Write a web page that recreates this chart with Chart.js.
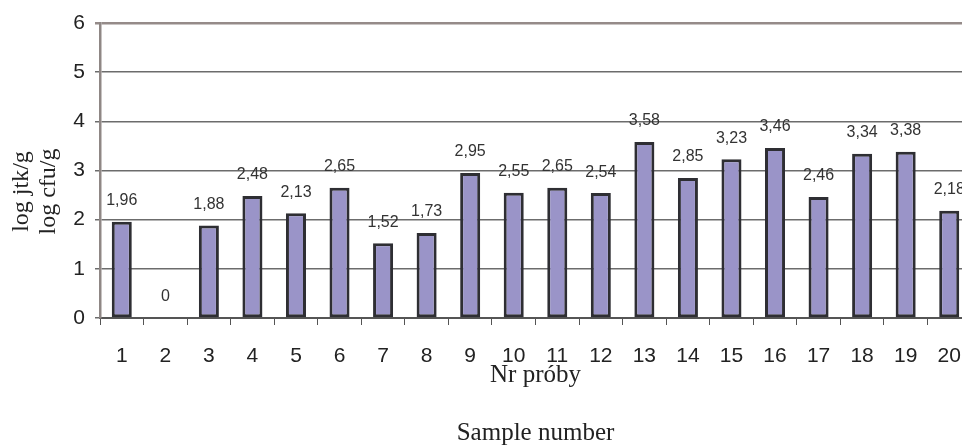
<!DOCTYPE html>
<html>
<head>
<meta charset="utf-8">
<script src="https://cdn.jsdelivr.net/npm/chart.js@4.4.1/dist/chart.umd.min.js"></script>
<style>
  html, body { margin: 0; padding: 0; background: #fff; overflow: hidden; }
  #wrap { position: relative; width: 980px; height: 447px; }
</style>
</head>
<body>
<div id="wrap"><canvas id="chart" width="980" height="447"></canvas></div>
<script>
// sample numbers and log counts
const samples = ['1', '2', '3', '4', '5', '6', '7', '8', '9', '10',
  '11', '12', '13', '14', '15', '16', '17', '18', '19', '20'];
const logCounts = [1.96, 0, 1.88, 2.48, 2.13, 2.65, 1.52, 1.73, 2.95, 2.55,
  2.65, 2.54, 3.58, 2.85, 3.23, 3.46, 2.46, 3.34, 3.38, 2.18];
const yTicks = [0, 1, 2, 3, 4, 5, 6];

const pad = '\u00a0'.repeat(7);
const yTitle = ['log jtk/g' + pad, 'log cfu/g' + pad];
const xTitle = ['Nr próby', 'Sample number'];

const fmt = (v) => (v === 0 ? '0' : v.toFixed(2).replace('.', ','));

// value labels above each bar
const barLabels = {
  id: 'barLabels',
  afterDatasetsDraw(chart) {
    const ctx = chart.ctx;
    const meta = chart.getDatasetMeta(0);
    ctx.save();
    ctx.font = '16px "Liberation Sans", Arial, sans-serif';
    ctx.fillStyle = '#333';
    ctx.textAlign = 'center';
    ctx.textBaseline = 'middle';
    meta.data.forEach((bar, i) => {
      ctx.fillText(fmt(logCounts[i]), bar.x, bar.y - 21);
    });
    ctx.restore();
  },
};

new Chart(document.getElementById('chart'), {
  type: 'bar',
  data: {
    labels: samples,
    datasets: [{
      data: logCounts,
      backgroundColor: '#9a94c8',
      borderColor: '#2e2e33',
      borderWidth: 3,
      borderSkipped: false,
      categoryPercentage: 1,
      barPercentage: 0.46,
    }],
  },
  options: {
    responsive: false,
    animation: false,
    layout: { padding: { top: 23, right: 4, left: 0, bottom: 0 } },
    plugins: { legend: { display: false }, tooltip: { enabled: false } },
    scales: {
      x: {
        afterFit: (s) => { s.height = 129; },
        grid: { drawOnChartArea: false, drawTicks: true, tickLength: 7, color: '#555', offset: true },
        border: { color: '#555', width: 2 },
        ticks: { color: '#222', padding: 19, font: { size: 21, family: '"Liberation Sans", Arial, sans-serif' } },
        title: {
          display: true,
          text: xTitle,
          color: '#222',
          font: { size: 25, family: '"Liberation Serif", "Times New Roman", serif', lineHeight: 2.32 },
          padding: { top: 0, bottom: -15 },
        },
      },
      y: {
        min: 0,
        max: 6,
        afterFit: (s) => { s.width = 100; },
        afterBuildTicks: (s) => { s.ticks = yTicks.map((v) => ({ value: v })); },
        grid: {
          color: (c) => (c.tick && c.tick.value === 6 ? '#958b89' : '#6c6c6c'),
          lineWidth: (c) => (c.tick && c.tick.value === 6 ? 2.5 : 1.5),
          tickLength: 5,
        },
        border: { color: '#8f8785', width: 2.5 },
        ticks: { color: '#222', padding: 10, font: { size: 21, family: '"Liberation Sans", Arial, sans-serif' } },
        title: {
          display: true,
          text: yTitle,
          color: '#222',
          font: { size: 24, family: '"Liberation Serif", "Times New Roman", serif', lineHeight: 1.13 },
          padding: { top: 8, bottom: 0 },
        },
      },
    },
  },
  plugins: [barLabels],
});
</script>
</body>
</html>
